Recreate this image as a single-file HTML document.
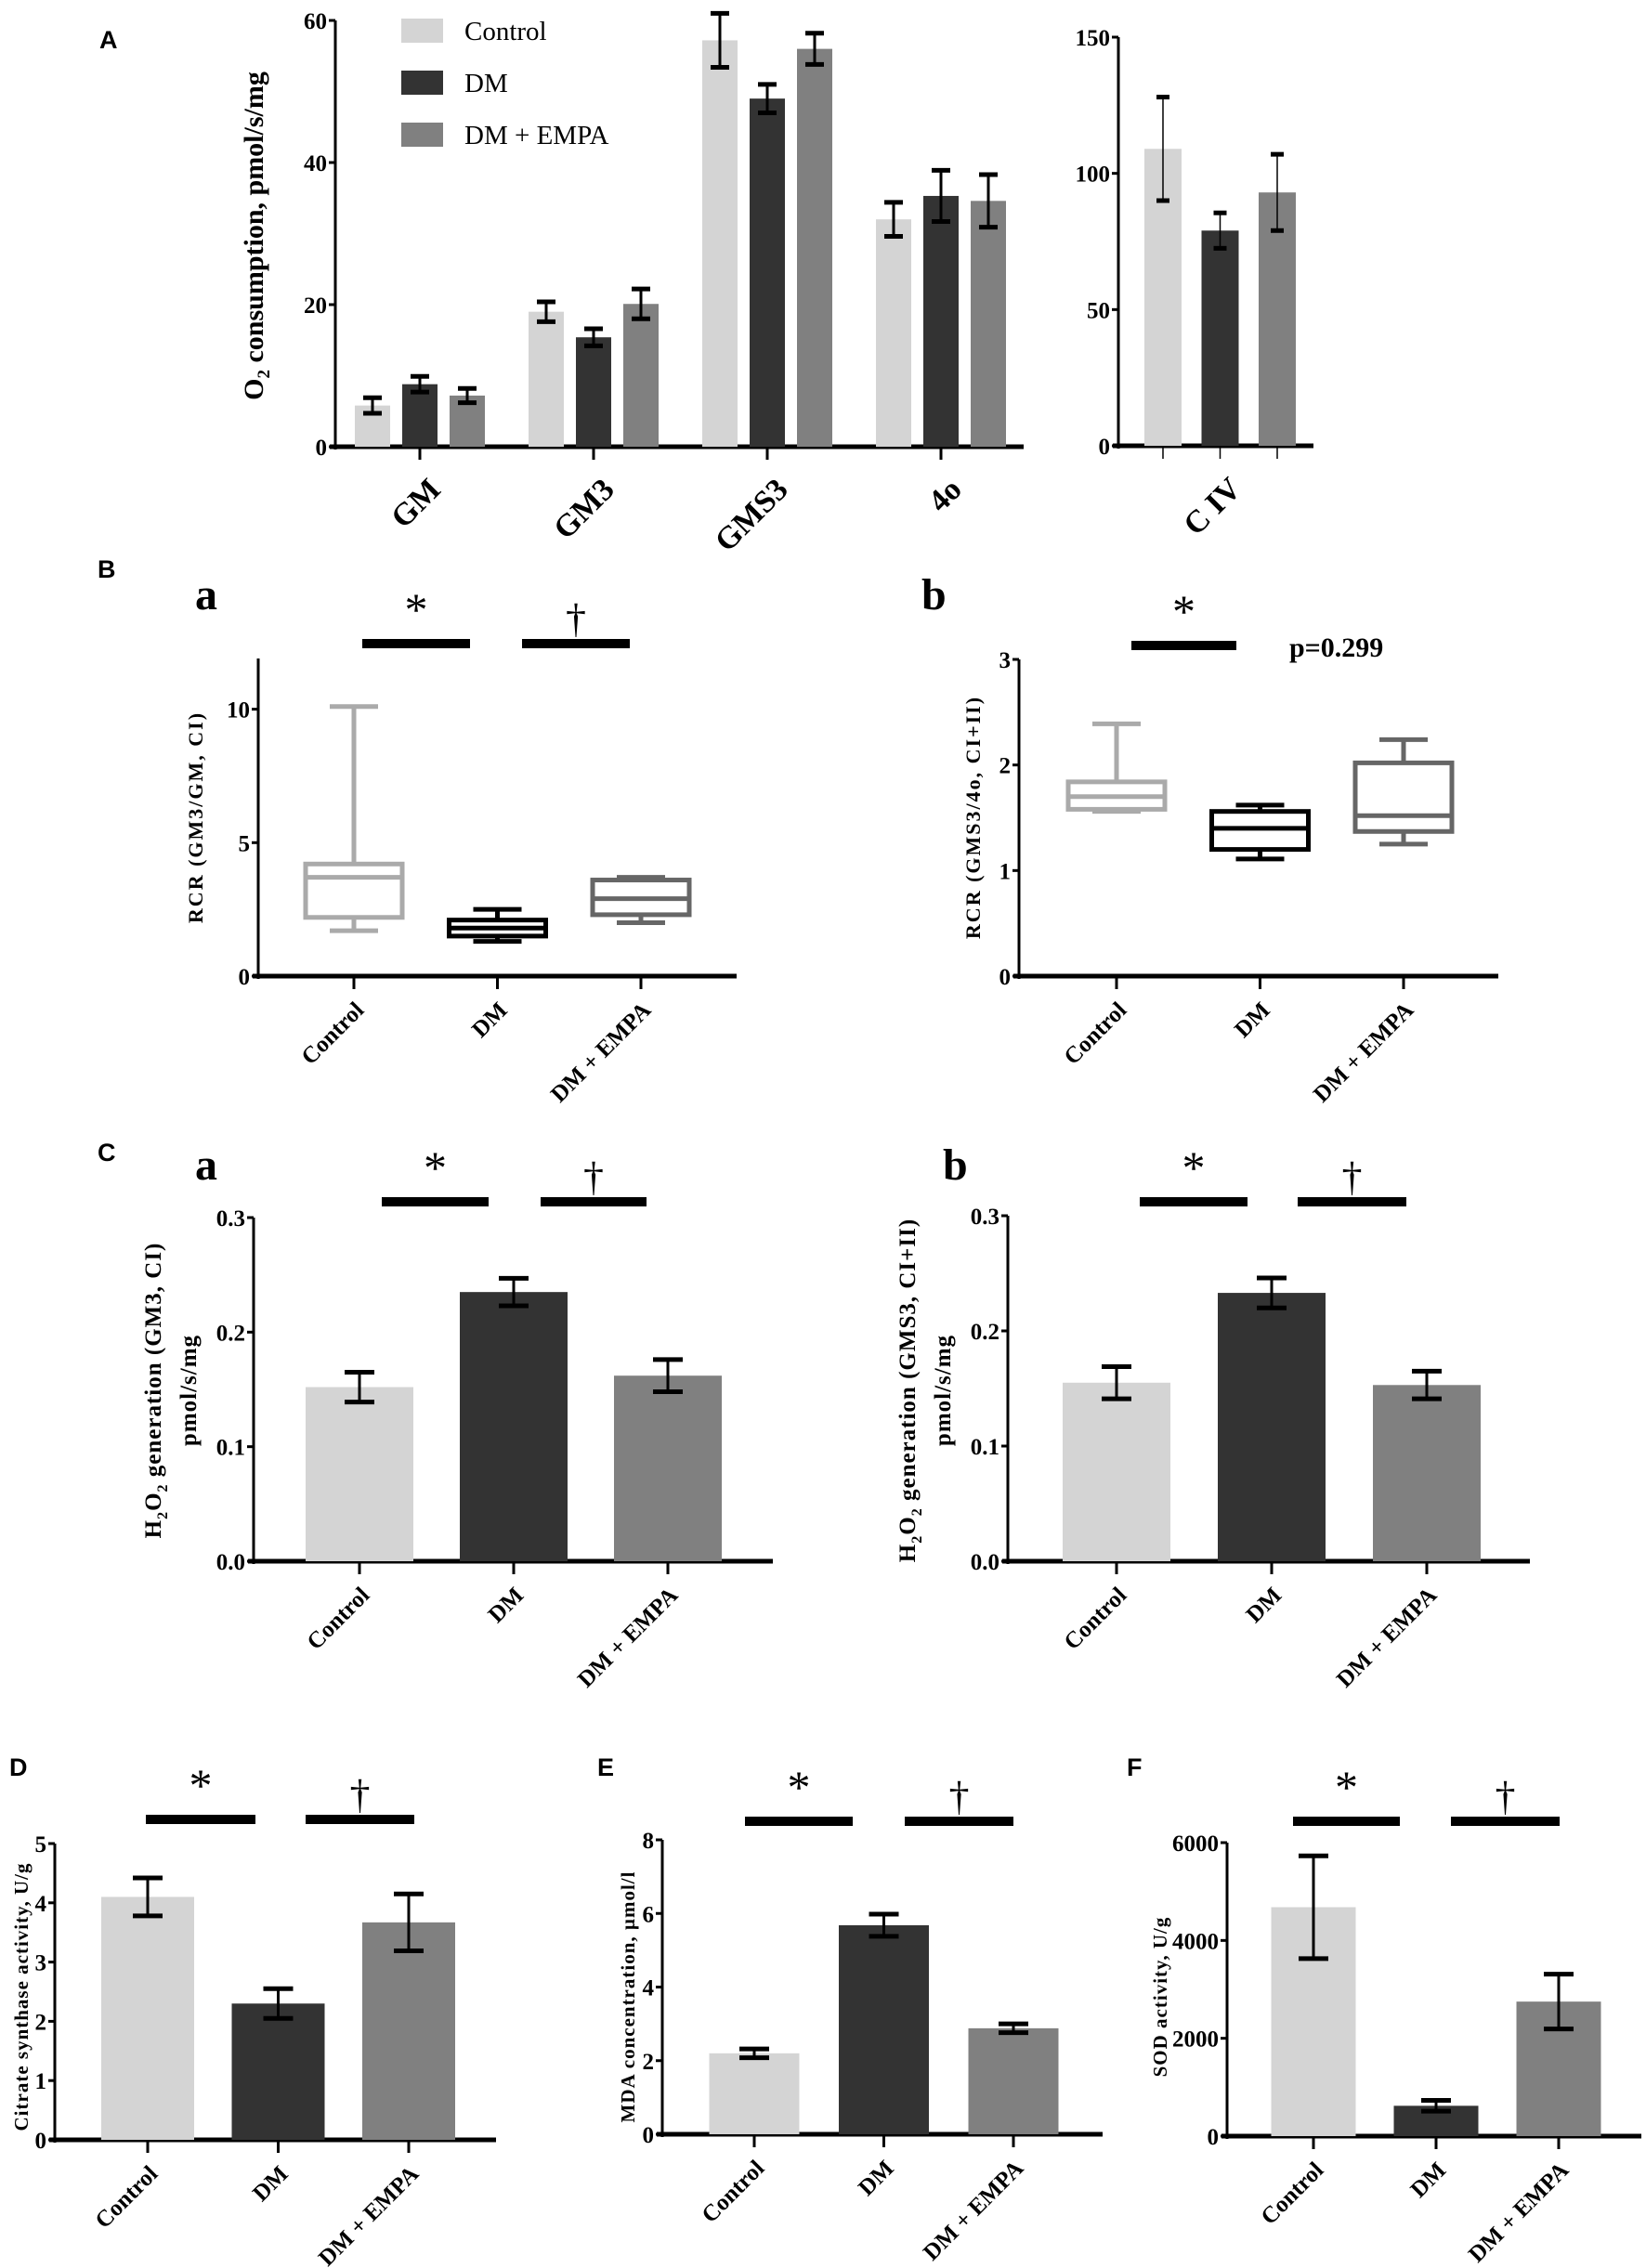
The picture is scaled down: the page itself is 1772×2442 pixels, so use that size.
<!DOCTYPE html>
<html><head><meta charset="utf-8">
<style>
html,body{margin:0;padding:0;background:#fff;}
svg{display:block;}
text{font-family:"Liberation Serif",serif;}
.t{font-size:25px;font-weight:bold;}
.pl{font-family:"Liberation Sans",sans-serif;font-weight:bold;font-size:27px;}
.sl{font-size:48px;font-weight:bold;}
</style></head>
<body>
<svg id="fig" width="1772" height="2442" viewBox="0 0 1772 2442" xmlns="http://www.w3.org/2000/svg">
<text class="pl" x="107" y="52">A</text>
<text class="pl" x="105" y="622">B</text>
<text class="pl" x="105" y="1250">C</text>
<text class="pl" x="10" y="1912">D</text>
<text class="pl" x="643" y="1912">E</text>
<text class="pl" x="1213" y="1912">F</text>
<text class="sl" x="210" y="656">a</text>
<text class="sl" x="992" y="656">b</text>
<text class="sl" x="210" y="1270">a</text>
<text class="sl" x="1015" y="1270">b</text>
<text x="1388" y="707" style="font-size:30px;font-weight:bold">p=0.299</text>
</svg>
<script>
// ---- Panel A data ----
const aCategories = ["GM","GM3","GMS3","4o"];
const aControl = [5.8, 19.0, 57.2, 32.0];
const aControlErr = [1.1, 1.4, 3.8, 2.4];
const aDM = [8.8, 15.4, 49.0, 35.3];
const aDMErr = [1.1, 1.2, 2.0, 3.6];
const aEMPA = [7.2, 20.1, 56.0, 34.6];
const aEMPAErr = [1.0, 2.1, 2.2, 3.7];
const aTicks = [0, 20, 40, 60];
const civCategory = ["C IV"];
const civValues = [109, 79, 93];
const civErr = [19, 6.5, 14];
const civTicks = [0, 50, 100, 150];
const seriesNames = ["Control","DM","DM + EMPA"];
// ---- Panel B data (box plots: min, q1, median, q3, max) ----
const groups = ["Control","DM","DM + EMPA"];
const baMin = [1.7, 1.3, 2.0];
const baQ1 = [2.2, 1.5, 2.3];
const baMed = [3.7, 1.8, 2.9];
const baQ3 = [4.2, 2.1, 3.6];
const baMax = [10.1, 2.5, 3.7];
const baTicks = [0, 5, 10];
const bbMin = [1.56, 1.11, 1.25];
const bbQ1 = [1.58, 1.20, 1.37];
const bbMed = [1.70, 1.40, 1.52];
const bbQ3 = [1.84, 1.56, 2.02];
const bbMax = [2.39, 1.62, 2.24];
const bbTicks = [0, 1, 2, 3];
// ---- Panel C data ----
const caValues = [0.152, 0.235, 0.162];
const caErr = [0.013, 0.012, 0.014];
const cbValues = [0.155, 0.233, 0.153];
const cbErr = [0.014, 0.013, 0.012];
const cTicks = ["0.0","0.1","0.2","0.3"];
// ---- Panels D/E/F ----
const dValues = [4.1, 2.3, 3.67];
const dErr = [0.32, 0.25, 0.48];
const dTicks = [0,1,2,3,4,5];
const eValues = [2.2, 5.68, 2.88];
const eErr = [0.12, 0.3, 0.12];
const eTicks = [0,2,4,6,8];
const fValues = [4680, 620, 2750];
const fErr = [1050, 110, 560];
const fTicks = [0,2000,4000,6000];

const colors = ["#d4d4d4","#333333","#808080"];
const boxColors = ["#aaaaaa","#000000","#666666"];
const NS = "http://www.w3.org/2000/svg";
const svg = document.getElementById("fig");
function mk(tag, attrs, parent){
  const e = document.createElementNS(NS, tag);
  for (const k in attrs) e.setAttribute(k, attrs[k]);
  (parent||svg).appendChild(e);
  return e;
}
function scale(d0,d1,r0,r1){return v => r0 + (v-d0)/(d1-d0)*(r1-r0);}

function axes(o){
  const y = scale(0, o.dmax, o.y0, o.yTop);
  const ax = mk("line",{x1:o.x0,y1:o.yTop,x2:o.x0,y2:o.y0+3,stroke:"#000","stroke-width":3});
  
  
  const xa = mk("line",{x1:o.x0-6,y1:o.y0,x2:o.x1,y2:o.y0,stroke:"#000","stroke-width":5});
  
  
  o.ticks.forEach((t,i)=>{
    const v = parseFloat(t);
    mk("line",{x1:o.x0-7,y1:y(v),x2:o.x0,y2:y(v),stroke:"#000","stroke-width":3});
    const tx = mk("text",{x:o.x0-9,y:y(v)+9,"text-anchor":"end",class:"t"});
    tx.textContent = o.tickLabels ? o.tickLabels[i] : t;
    
    
  });
  return y;
}
function xlabel(x, y, txt, size, name){
  const t = mk("text",{x:x, y:y, "text-anchor":"end", transform:`rotate(-45 ${x} ${y})`, style:`font-size:${size}px;font-weight:bold;`});
  t.textContent = txt;
  
  
}
function ylabel(x, yc, lines, size, ls, gap, name){
  lines.forEach((ln,i)=>{
    const xx = x + i*gap;
    const t = mk("text",{x:xx, y:yc, "text-anchor":"middle", transform:`rotate(-90 ${xx} ${yc})`, style:`font-size:${size}px;font-weight:bold;letter-spacing:${ls}px`});
    t.innerHTML = ln;
    
    
  });
}
function errbar(cx, y, v, e, w, name){
  const g = mk("g",{stroke:"#000","stroke-width":3});
  
  
  mk("line",{x1:cx,y1:y(v+e),x2:cx,y2:y(v-e)},g);
  mk("line",{x1:cx-w,y1:y(v+e),x2:cx+w,y2:y(v+e),"stroke-width":5},g);
  mk("line",{x1:cx-w,y1:y(v-e),x2:cx+w,y2:y(v-e),"stroke-width":5},g);
}
function bar(cx, bw, y, v, color, name){
  const r = mk("rect",{x:cx-bw/2,y:y(v),width:bw,height:y(0)-y(v),fill:color});
  
  
}
function sig(x1,x2,yb,sym,name){
  const r = mk("rect",{x:x1,y:yb-5,width:x2-x1,height:10,fill:"#000"});
  
  
  const t = mk("text",{x:(x1+x2)/2,y:sym==="*"?yb-20:yb-12,"text-anchor":"middle",style:sym==="*"?"font-size:50px":"font-size:44px"});
  t.textContent = sym;
  
  
}

// ===== Panel A left =====
(function(){
  const x0=361, x1=1102, y0=481, yTop=22;
  const y = axes({x0,x1,y0,yTop,dmax:60,ticks:aTicks,name:"panel-a"});
  const sers=[[aControl,aControlErr],[aDM,aDMErr],[aEMPA,aEMPAErr]];
  aCategories.forEach((c,i)=>{
    const cx = 452 + i*187;
    mk("line",{x1:cx,y1:y0,x2:cx,y2:y0+14,stroke:"#000","stroke-width":3});
    sers.forEach((s,j)=>{
      const bx = cx + (j-1)*51;
      bar(bx,38,y,s[0][i],colors[j],'bar-'+c+'-'+j);
      errbar(bx,y,s[0][i],s[1][i],10,'error-bar-'+c+'-'+j);
    });
    xlabel(cx+24, y0+48, c, 34, 'x-label-'+c);
  });
  ylabel(283, 254, ["O<tspan font-size='19' dy='7'>2</tspan><tspan dy='-7'> consumption, pmol/s/mg</tspan>"], 30, 0, 0, "panel-a-y-axis-title");
  seriesNames.forEach((n,j)=>{
    const r = mk("rect",{x:432,y:20+j*56,width:45,height:26,fill:colors[j]});
    
    
    const t = mk("text",{x:500,y:43+j*56,style:"font-size:29px"});
    t.textContent = n;
    
    
  });
})();
// ===== Panel A right (C IV) =====
(function(){
  const x0=1204, x1=1414, y0=480, yTop=40;
  const y = axes({x0,x1,y0,yTop,dmax:150,ticks:civTicks,name:"panel-a-civ"});
  civValues.forEach((v,j)=>{
    const cx = 1252 + j*61.5;
    mk("line",{x1:cx,y1:y0,x2:cx,y2:y0+14,stroke:"#000","stroke-width":1.5});
    bar(cx,40,y,v,colors[j],'bar-civ-'+j);
    const g = mk("g",{stroke:"#000","stroke-width":1.5});
    
    
    mk("line",{x1:cx,y1:y(v+civErr[j]),x2:cx,y2:y(v-civErr[j])},g);
    mk("line",{x1:cx-7,y1:y(v+civErr[j]),x2:cx+7,y2:y(v+civErr[j]),"stroke-width":5},g);
    mk("line",{x1:cx-7,y1:y(v-civErr[j]),x2:cx+7,y2:y(v-civErr[j]),"stroke-width":5},g);
  });
  xlabel(1338, y0+48, civCategory[0], 34, 'x-label-civ');
})();

// ===== Box plots =====
function boxPanel(o){
  const y = axes({x0:o.x0,x1:o.x1,y0:o.y0,yTop:o.yTop,dmax:o.dmax,ticks:o.ticks,name:o.name});
  groups.forEach((gname,i)=>{
    const cx = o.cx0 + i*o.dx, w=o.bw;
    mk("line",{x1:cx,y1:o.y0,x2:cx,y2:o.y0+14,stroke:"#000","stroke-width":3});
    const g = mk("g",{stroke:boxColors[i],"stroke-width":5,fill:"none"});
    
    
    mk("line",{x1:cx,y1:y(o.max[i]),x2:cx,y2:y(o.q3[i])},g);
    mk("line",{x1:cx,y1:y(o.q1[i]),x2:cx,y2:y(o.min[i])},g);
    mk("line",{x1:cx-w/4,y1:y(o.max[i]),x2:cx+w/4,y2:y(o.max[i])},g);
    mk("line",{x1:cx-w/4,y1:y(o.min[i]),x2:cx+w/4,y2:y(o.min[i])},g);
    mk("rect",{x:cx-w/2,y:y(o.q3[i]),width:w,height:y(o.q1[i])-y(o.q3[i])},g);
    mk("line",{x1:cx-w/2,y1:y(o.med[i]),x2:cx+w/2,y2:y(o.med[i])},g);
    xlabel(cx+12, o.y0+38, gname, 25, o.name+'-x-label-'+i);
  });
}
boxPanel({name:"panel-ba",x0:278,x1:793,y0:1051,yTop:709,dmax:11.9,ticks:baTicks,cx0:381,dx:154.5,bw:104,min:baMin,q1:baQ1,med:baMed,q3:baQ3,max:baMax});
ylabel(218, 880, ["RCR (GM3/GM, CI)"], 22, 2, 0, "panel-ba-y-axis-title");
sig(390,506,693,"*","sig-ba-star");
sig(562,678,693,"†","sig-ba-dagger");
boxPanel({name:"panel-bb",x0:1097,x1:1613,y0:1051,yTop:710,dmax:3,ticks:bbTicks,cx0:1202,dx:154.5,bw:104,min:bbMin,q1:bbQ1,med:bbMed,q3:bbQ3,max:bbMax});
ylabel(1055, 880, ["RCR (GMS3/4o, CI+II)"], 22, 2, 0, "panel-bb-y-axis-title");
sig(1218,1331,695,"*","sig-bb-star");

// ===== 3-bar panels =====
function barPanel(o){
  const y = axes({x0:o.x0,x1:o.x1,y0:o.y0,yTop:o.yTop,dmax:o.dmax,ticks:o.ticks,tickLabels:o.tickLabels,name:o.name});
  o.values.forEach((v,i)=>{
    const cx = o.cx0 + i*o.dx;
    mk("line",{x1:cx,y1:o.y0,x2:cx,y2:o.y0+14,stroke:"#000","stroke-width":3});
    bar(cx,o.bw,y,v,colors[i],o.name+'-bar-'+i);
    errbar(cx,y,v,o.err[i],16,o.name+'-error-'+i);
    xlabel(cx+12, o.y0+38, groups[i], 25, o.name+'-x-label-'+i);
  });
  sig(o.s1[0],o.s1[1],o.sy,"*",o.name+'-sig-star');
  sig(o.s2[0],o.s2[1],o.sy,"†",o.name+'-sig-dagger');
}
const h2o2 = (s)=>"H<tspan font-size='16' dy='7'>2</tspan><tspan dy='-7'>O</tspan><tspan font-size='16' dy='7'>2</tspan><tspan dy='-7'> generation ("+s+")</tspan>";
barPanel({name:"panel-ca",x0:273,x1:832,y0:1681,yTop:1311,dmax:0.3,ticks:[0,0.1,0.2,0.3],tickLabels:cTicks,cx0:387,dx:166,bw:116,values:caValues,err:caErr,s1:[411,526],s2:[582,696],sy:1294});
ylabel(173, 1497, [h2o2("GM3, CI"),"pmol/s/mg"], 25, 1, 38, "panel-ca-y-axis-title");
barPanel({name:"panel-cb",x0:1085,x1:1647,y0:1681,yTop:1309,dmax:0.3,ticks:[0,0.1,0.2,0.3],tickLabels:cTicks,cx0:1202,dx:167,bw:116,values:cbValues,err:cbErr,s1:[1227,1343],s2:[1397,1514],sy:1294});
ylabel(985, 1497, [h2o2("GMS3, CI+II"),"pmol/s/mg"], 25, 1, 38, "panel-cb-y-axis-title");
barPanel({name:"panel-d",x0:59,x1:534,y0:2304,yTop:1985,dmax:5,ticks:dTicks,cx0:159,dx:140.5,bw:100,values:dValues,err:dErr,s1:[157,275],s2:[329,446],sy:1959});
ylabel(30, 2150, ["Citrate synthase activity, U/g"], 21, 1, 0, "panel-d-y-axis-title");
barPanel({name:"panel-e",x0:713,x1:1187,y0:2298,yTop:1981,dmax:8,ticks:eTicks,cx0:812,dx:139.5,bw:97,values:eValues,err:eErr,s1:[802,918],s2:[974,1091],sy:1961});
ylabel(683, 2150, ["MDA concentration, µmol/l"], 21, 1, 0, "panel-e-y-axis-title");
barPanel({name:"panel-f",x0:1321,x1:1767,y0:2300,yTop:1984,dmax:6000,ticks:fTicks,cx0:1414,dx:132,bw:91,values:fValues,err:fErr,s1:[1392,1507],s2:[1562,1679],sy:1961});
ylabel(1256, 2150, ["SOD activity, U/g"], 21, 1, 0, "panel-f-y-axis-title");
</script>
</body></html>
